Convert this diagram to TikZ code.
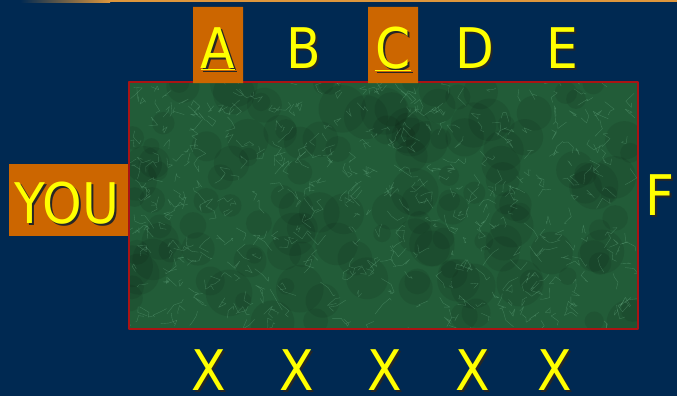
\documentclass[tikz,border=0pt]{standalone}
\usepackage{fontspec}
\setmainfont{DejaVu Sans Condensed}
\definecolor{navy}{RGB}{0,41,82}
\definecolor{tab}{RGB}{204,102,0}
\definecolor{felt}{RGB}{34,92,56}
\definecolor{vein}{RGB}{130,200,160}
\definecolor{rim}{RGB}{170,20,20}
\definecolor{gold}{RGB}{255,255,0}
\definecolor{lineor}{RGB}{222,150,60}
\newcommand\dropshade[1]{\makebox[0pt][l]{\kern2pt\raisebox{-2pt}{\color{black!85}#1}}\textcolor{gold}{#1}}
\begin{document}
\begin{tikzpicture}[x=1pt,y=-1pt,line join=round,line cap=round,
  lbl/.style={inner sep=0pt,anchor=base,font=\fontsize{56}{60}\selectfont}]
  \useasboundingbox[fill=navy] (0,0) rectangle (677,396);
  % top rule
  \shade[left color=navy,right color=lineor] (20,0) rectangle (110,2.5);
  \fill[lineor] (110,0) rectangle (677,2.5);
  % the table
  \fill[felt] (129,82) rectangle (638,329);
  \begin{scope}
    \clip (129,82) rectangle (638,329);
    \pgfmathsetseed{11}
    \foreach \i in {1,...,140}{
      \pgfmathsetmacro\px{129+509*rnd}
      \pgfmathsetmacro\py{82+247*rnd}
      \fill[black,opacity=.08] (\px,\py) circle ({8+16*rnd});
    }
    \foreach \i in {1,...,500}{
      \pgfmathsetmacro\px{129+509*rnd}
      \pgfmathsetmacro\py{82+247*rnd}
      \draw[vein,opacity=.3,line width=.4pt] (\px,\py) -- ++({10*rand},{10*rand}) -- ++({8*rand},{8*rand}) -- ++({6*rand},{6*rand});
    }
  \end{scope}
  \draw[rim,line width=1.2pt] (129,82) rectangle (638,329);
  % orange tabs
  \fill[tab] (193,7) rectangle (243,83) (368,7) rectangle (418,83);
  \fill[tab] (9,164) rectangle (128,236);
  % seats
  \foreach \n/\x/\t in {a/218/\underline{A},b/304/B,c/393/\underline{C},d/475/D,e/562/E}
    \node[lbl] (\n) at (\x,68) {\dropshade{\t}};
  \foreach \n/\x in {1/209,2/297,3/385,4/473,5/555}
    \node[lbl] (x\n) at (\x,390) {\dropshade{X}};
  \node[lbl] (you) at (67,223) {\dropshade{YOU}};
  \node[lbl] (f) at (660,215) {\dropshade{F}};
\end{tikzpicture}
\end{document}
